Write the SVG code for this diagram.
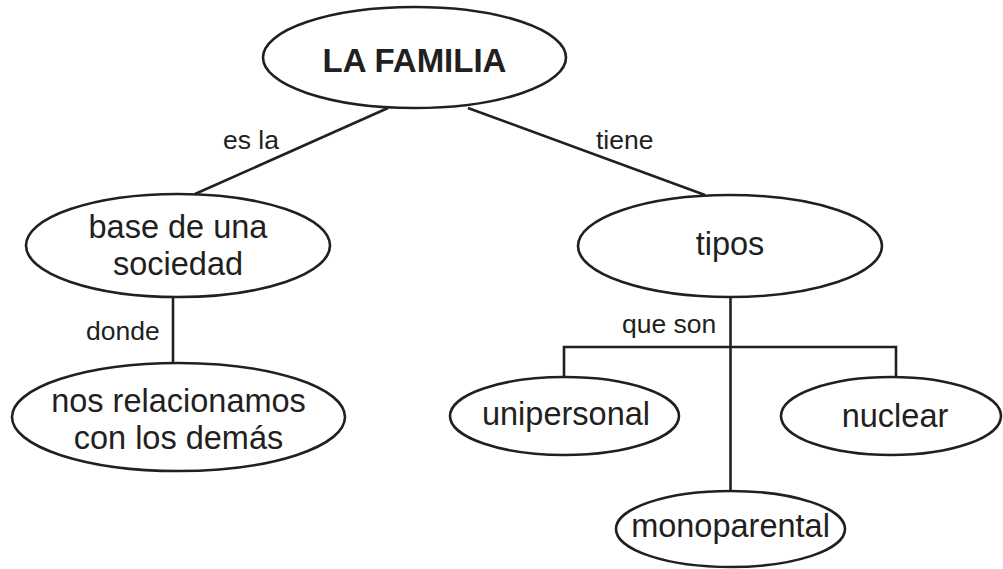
<svg xmlns="http://www.w3.org/2000/svg" width="1003" height="569" viewBox="0 0 1003 569">
<style>
.n{fill:#fff;stroke:#231f20;stroke-width:2.6}
.c{fill:none;stroke:#231f20;stroke-width:2.6}
.t{font-family:"Liberation Sans",Arial,sans-serif;font-size:32.5px;fill:#231f20;text-anchor:middle}
.b{font-weight:bold;font-size:33px}
.l{font-family:"Liberation Sans",Arial,sans-serif;font-size:26.5px;fill:#231f20}
</style>
<rect width="1003" height="569" fill="#fff"/>
<g id="connectors">
<line class="c" x1="388" y1="108" x2="195" y2="194"/>
<line class="c" x1="468" y1="108" x2="705" y2="195"/>
<line class="c" x1="173" y1="297" x2="173" y2="363"/>
<line class="c" x1="730.5" y1="297" x2="730.5" y2="490"/>
<polyline class="c" points="564,377 564,347 896,347 896,377"/>
<text class="l" x="223" y="149">es la</text>
<text class="l" x="596" y="149">tiene</text>
<text class="l" x="86" y="340">donde</text>
<text class="l" x="622" y="333">que son</text>
</g>
<g id="familia">
<ellipse class="n" cx="414.5" cy="57.5" rx="151.5" ry="50.5"/>
<text class="t b" x="414.5" y="72">LA FAMILIA</text>
</g>
<g id="base">
<ellipse class="n" cx="178" cy="245.5" rx="152" ry="51.5"/>
<text class="t" x="178" y="238">base de una</text>
<text class="t" x="178" y="275">sociedad</text>
</g>
<g id="relacionamos">
<ellipse class="n" cx="178.5" cy="417" rx="166.5" ry="54"/>
<text class="t" x="178.5" y="412">nos relacionamos</text>
<text class="t" x="178.5" y="449">con los demás</text>
</g>
<g id="tipos">
<ellipse class="n" cx="730" cy="246" rx="152" ry="51"/>
<text class="t" x="730" y="255">tipos</text>
</g>
<g id="unipersonal">
<ellipse class="n" cx="564.5" cy="416" rx="114.5" ry="39"/>
<text class="t" x="566" y="425">unipersonal</text>
</g>
<g id="nuclear">
<ellipse class="n" cx="891" cy="416" rx="110" ry="39"/>
<text class="t" x="895" y="427">nuclear</text>
</g>
<g id="monoparental">
<ellipse class="n" cx="730.5" cy="529" rx="114.5" ry="38"/>
<text class="t" x="730.5" y="537">monoparental</text>
</g>
</svg>
